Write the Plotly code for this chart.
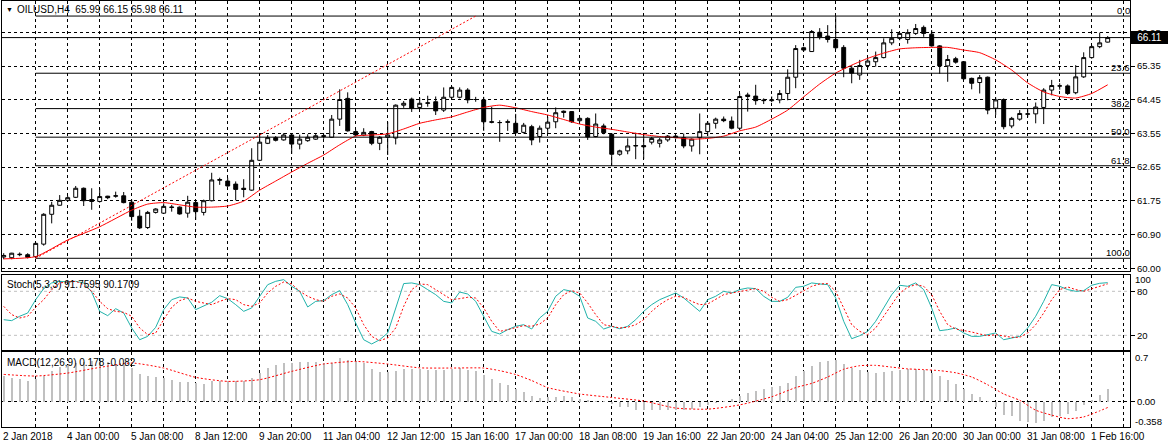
import plotly.graph_objects as go

# ---------------- DATA ----------------
symbol = "OILUSD,H4"
open_ = [60.30, 60.28, 60.36, 60.36, 60.31, 60.64, 61.43, 61.67, 61.80, 61.88,
         62.12, 61.82, 61.77, 61.91, 61.91, 61.92, 61.75, 61.38, 61.08, 61.48,
         61.46, 61.61, 61.62, 61.46, 61.74, 61.48, 61.79, 62.33, 62.31, 62.23,
         62.12, 62.07, 62.86, 63.31, 63.46, 63.40, 63.53, 63.29, 63.38, 63.42,
         63.49, 63.47, 63.95, 64.50, 63.62, 63.53, 63.62, 63.31, 63.47, 63.45,
         64.32, 64.48, 64.26, 64.37, 64.41, 64.19, 64.53, 64.53, 64.72, 64.47,
         64.46, 63.88, 63.86, 63.88, 63.84, 63.60, 63.75, 63.49, 63.71, 63.88,
         64.16, 64.15, 63.91, 63.97, 63.49, 63.77, 63.55, 63.02, 63.11, 63.24,
         63.25, 63.34, 63.31, 63.40, 63.50, 63.46, 63.24, 63.46, 63.62, 63.84,
         63.95, 63.90, 63.71, 64.59, 64.56, 64.44, 64.44, 64.46, 64.63, 65.06,
         65.84, 65.74, 66.25, 66.15, 66.06, 65.85, 65.30, 65.12, 65.37, 65.47,
         65.58, 65.97, 66.09, 66.06, 66.22, 66.38, 66.20, 65.89, 65.36, 65.55,
         65.47, 65.03, 64.92, 65.06, 64.24, 64.47, 63.77, 63.95, 64.08, 64.09,
         64.26, 64.72, 64.83, 64.83, 64.65, 65.07, 65.58, 65.87, 65.99]
high = [60.40, 60.41, 60.42, 60.40, 60.68, 61.46, 61.76, 61.94, 61.92, 62.18,
        62.14, 62.12, 62.12, 61.92, 62.03, 62.02, 61.82, 61.55, 61.52, 61.59,
        61.72, 61.68, 61.64, 61.92, 61.80, 61.82, 62.53, 62.40, 62.40, 62.30,
        62.36, 63.18, 63.53, 63.53, 63.50, 63.58, 63.56, 63.54, 63.55, 63.58,
        63.56, 64.06, 64.74, 64.66, 63.67, 63.71, 63.64, 63.50, 63.88, 64.34,
        64.43, 64.52, 64.52, 64.57, 64.55, 64.79, 64.83, 64.79, 64.77, 64.54,
        64.54, 64.28, 63.92, 63.94, 64.09, 63.85, 63.80, 63.78, 64.01, 64.26,
        64.18, 64.16, 64.00, 64.00, 64.10, 63.83, 63.58, 63.14, 63.44, 63.59,
        63.53, 63.48, 63.45, 63.53, 63.53, 63.57, 63.44, 64.10, 63.90, 63.99,
        64.02, 64.02, 64.63, 64.65, 64.86, 64.50, 64.55, 64.72, 65.27, 65.91,
        65.87, 66.31, 66.36, 66.44, 66.68, 65.91, 65.38, 65.52, 65.56, 65.74,
        66.09, 66.33, 66.23, 66.33, 66.47, 66.43, 66.31, 65.91, 65.65, 65.60,
        65.49, 65.05, 65.12, 65.08, 64.53, 64.50, 64.01, 64.19, 64.21, 64.39,
        64.77, 64.99, 64.90, 64.87, 65.38, 65.72, 65.91, 66.24, 66.15]
low = [60.24, 60.24, 60.32, 60.26, 60.27, 60.60, 61.19, 61.66, 61.76, 61.86,
       61.65, 61.55, 61.74, 61.83, 61.87, 61.72, 61.26, 61.04, 61.04, 61.45,
       61.44, 61.50, 61.42, 61.34, 61.28, 61.40, 61.77, 62.21, 62.16, 61.80,
       61.88, 62.05, 62.84, 63.29, 63.36, 63.38, 63.03, 63.15, 63.35, 63.40,
       63.43, 63.45, 63.77, 63.62, 63.50, 63.50, 63.26, 63.13, 63.00, 63.28,
       64.25, 64.14, 64.22, 64.28, 64.06, 64.14, 64.46, 64.50, 64.37, 64.41,
       63.64, 63.84, 63.35, 63.64, 63.56, 63.57, 63.26, 63.33, 63.57, 63.71,
       63.99, 63.85, 63.87, 63.40, 63.47, 63.55, 62.71, 62.98, 63.02, 62.89,
       62.89, 63.28, 63.20, 63.35, 63.44, 63.18, 63.09, 63.02, 63.50, 63.70,
       63.87, 63.68, 63.66, 64.15, 64.33, 64.35, 64.40, 64.37, 64.45, 64.77,
       65.74, 65.73, 66.06, 65.98, 65.80, 65.06, 64.90, 64.99, 65.30, 65.34,
       65.56, 65.91, 66.04, 65.95, 66.18, 66.13, 65.87, 65.15, 64.94, 65.42,
       64.99, 64.74, 64.63, 64.08, 64.06, 63.68, 63.71, 63.91, 64.00, 63.84,
       63.82, 64.58, 64.73, 64.59, 64.61, 65.04, 65.55, 65.83, 65.98]
close = [60.34, 60.40, 60.37, 60.29, 60.66, 61.43, 61.67, 61.80, 61.87, 62.12,
         61.79, 61.77, 61.90, 61.87, 61.92, 61.74, 61.37, 61.07, 61.48, 61.57,
         61.64, 61.62, 61.44, 61.75, 61.50, 61.79, 62.34, 62.35, 62.18, 62.09,
         62.09, 62.86, 63.34, 63.46, 63.39, 63.53, 63.29, 63.42, 63.47, 63.51,
         63.51, 63.95, 64.47, 63.64, 63.53, 63.60, 63.31, 63.47, 63.53, 64.32,
         64.37, 64.24, 64.37, 64.38, 64.17, 64.53, 64.79, 64.72, 64.46, 64.47,
         63.88, 63.87, 63.86, 63.87, 63.59, 63.79, 63.40, 63.71, 63.87, 64.12,
         64.13, 63.88, 63.97, 63.48, 63.82, 63.59, 63.02, 63.11, 63.24, 63.25,
         63.22, 63.44, 63.40, 63.50, 63.46, 63.24, 63.42, 63.62, 63.84, 63.95,
         63.91, 63.71, 64.55, 64.55, 64.44, 64.45, 64.46, 64.63, 65.06, 65.82,
         65.78, 66.27, 66.13, 66.06, 65.84, 65.30, 65.17, 65.37, 65.49, 65.58,
         65.97, 66.09, 66.22, 66.24, 66.35, 66.22, 65.89, 65.36, 65.53, 65.46,
         65.02, 64.90, 65.05, 64.19, 64.46, 63.75, 63.97, 64.10, 64.09, 64.27,
         64.72, 64.84, 64.83, 64.63, 65.07, 65.58, 65.87, 65.97, 66.11]
bars = list(range(len(close)))

ma_bars = [0, 4, 8, 12, 16, 18, 20, 22, 24, 26, 28, 30, 32, 34, 36, 38, 40, 42, 44, 46,
           48, 50, 52, 54, 56, 58, 60, 62, 64, 66, 68, 70, 72, 74, 76, 78, 80, 82, 84, 86,
           88, 90, 92, 94, 96, 98, 100, 102, 104, 106, 108, 110, 112, 114, 116, 118, 120,
           122, 124, 126, 128, 130, 132, 134, 136, 138]
ma_vals = [60.25, 60.31, 60.75, 61.10, 61.54, 61.70, 61.74, 61.68, 61.62, 61.62,
           61.65, 61.78, 62.07, 62.31, 62.55, 62.78, 63.00, 63.27, 63.50, 63.53,
           63.56, 63.69, 63.84, 63.93, 64.01, 64.14, 64.26, 64.32, 64.25, 64.15,
           64.06, 63.94, 63.82, 63.74, 63.68, 63.61, 63.54, 63.49, 63.46, 63.42,
           63.44, 63.50, 63.64, 63.74, 63.95, 64.19, 64.54, 64.88, 65.17, 65.38,
           65.56, 65.70, 65.81, 65.84, 65.85, 65.85, 65.78, 65.71, 65.52, 65.25,
           64.91, 64.67, 64.55, 64.51, 64.63, 64.86]

stoch_k = [41.3, 40, 46, 50.4, 68.6, 83.6, 91.4, 93.6, 92.7, 93.6,
           91.4, 79, 52.7, 46.8, 56.3, 50.4, 30, 14, 18.6, 30.9,
           55, 68.6, 72.3, 70.9, 55, 60.4, 65, 74, 70, 61.8,
           52.7, 57.3, 73.2, 89, 93.6, 95.9, 86.8, 80, 58.6, 66.3,
           67.3, 75.4, 80.9, 61.8, 36.8, 14, 8.2, 14, 23.2, 57.3,
           90.5, 91.4, 89.1, 82.3, 75.4, 66.3, 64.1, 79, 76.3, 66.3,
           45.9, 25.4, 21.8, 27.7, 32.3, 34.5, 28.6, 43.6, 52.7, 73.2,
           82.3, 80, 73.2, 43.6, 39.1, 28.6, 32.3, 29, 32.3, 41.3,
           52.7, 61.8, 68.6, 73.2, 77.7, 70.9, 61.8, 52.7, 68.6, 73.2,
           80, 77.7, 82.3, 84.5, 83.6, 73.2, 66.3, 66.3, 71.8, 85.4,
           86.8, 91.4, 90, 89.1, 70.9, 39.1, 15.4, 19.5, 25.4, 39.1,
           57.3, 75.4, 88.2, 86.8, 91.4, 82.3, 57.3, 26.3, 27.7, 30,
           23.2, 18.6, 18.6, 20.9, 23.2, 14, 16.4, 18.6, 30, 46,
           66.3, 89.1, 86.8, 82.3, 80, 80.9, 88.2, 90.9, 91.7595]
stoch_d = [59.5, 48.2, 43.6, 46, 58.2, 68.6, 82.3, 91.4, 92.7, 93.6,
           89.1, 80, 66.3, 56.3, 52.7, 51.3, 46, 30, 20.9, 23.2,
           41.3, 58.2, 67.3, 70.9, 66.3, 64.1, 61.8, 66.3, 70, 68.6,
           61.8, 59.5, 64.1, 77.7, 86.8, 92.7, 90, 80, 73.2, 68.6,
           66.3, 73.2, 76.4, 70.9, 57.3, 34.5, 18.6, 12.7, 16.4, 30,
           59.5, 82.3, 90, 89.1, 82.3, 75.4, 68.6, 70, 71.8, 70.9,
           57.3, 39.1, 25.4, 27.7, 30, 33.2, 32.3, 35.4, 43.6, 61.8,
           75.4, 80.9, 77.7, 64.1, 48.2, 34.5, 32.3, 30, 31, 34.5,
           41.3, 52.7, 61.8, 68.6, 73.2, 71.8, 66.3, 61.8, 62.7, 68.6,
           75.4, 77.7, 80, 82.3, 83.6, 80, 71.8, 66.3, 68.6, 74.5,
           80.9, 86.8, 90, 90.5, 80, 57.3, 34.5, 25.4, 20.9, 30,
           46, 61.8, 77.7, 85.4, 89.1, 86.8, 75.4, 52.7, 34.5, 28.6,
           26.8, 24.5, 21.8, 19.5, 20.9, 18.6, 17.3, 17.3, 23.2, 34.5,
           50.4, 68.6, 82.3, 85.9, 82.3, 80, 83.6, 86.8, 90.1709]
stoch_levels = [20, 80]

macd_main = [0.36, 0.335, 0.32, 0.30, 0.32, 0.37, 0.43, 0.49, 0.52, 0.55,
             0.56, 0.57, 0.57, 0.56, 0.53, 0.515, 0.48, 0.39, 0.37, 0.345,
             0.335, 0.31, 0.28, 0.28, 0.26, 0.25, 0.29, 0.29, 0.29, 0.29,
             0.30, 0.335, 0.41, 0.48, 0.515, 0.55, 0.55, 0.56, 0.56, 0.56,
             0.55, 0.55, 0.62, 0.595, 0.57, 0.55, 0.47, 0.42, 0.42, 0.43,
             0.467, 0.467, 0.467, 0.453, 0.453, 0.453, 0.46, 0.477, 0.453, 0.44,
             0.38, 0.32, 0.264, 0.23, 0.18, 0.137, 0.085, 0.052, 0.06, 0.066,
             0.085, 0.066, 0.045, 0.028, 0.014, 0.005, -0.03, -0.08, -0.08, -0.113,
             -0.113, -0.113, -0.113, -0.113, -0.113, -0.113, -0.099, -0.08, -0.05, -0.019,
             0.005, 0.038, 0.076, 0.123, 0.156, 0.184, 0.203, 0.217, 0.264, 0.359,
             0.43, 0.50, 0.557, 0.58, 0.595, 0.534, 0.477, 0.444, 0.42, 0.406,
             0.415, 0.439, 0.45, 0.463, 0.463, 0.453, 0.40, 0.359, 0.312, 0.25,
             0.18, 0.109, 0.066, 0.014, -0.08, -0.184, -0.208, -0.269, -0.29, -0.302,
             -0.269, -0.222, -0.2, -0.175, -0.127, -0.042, 0.03, 0.099, 0.178]
signal_bars = [0, 4, 8, 12, 16, 20, 24, 28, 32, 36, 40, 44, 48, 52, 56, 60, 62, 64, 66, 68,
               72, 76, 80, 84, 88, 92, 96, 99, 101, 103, 105, 107, 109, 111, 113, 115, 117,
               119, 121, 123, 125, 127, 129, 131, 133, 135, 137, 138]
signal_vals = [0.387, 0.364, 0.406, 0.486, 0.548, 0.477, 0.345, 0.288, 0.312, 0.43,
               0.534, 0.571, 0.534, 0.48, 0.477, 0.477, 0.44, 0.385, 0.30, 0.20,
               0.11, 0.06, 0.01, -0.09, -0.105, -0.045, 0.07, 0.2, 0.26, 0.35,
               0.46, 0.51, 0.515, 0.49, 0.465, 0.455, 0.44, 0.41, 0.35, 0.24,
               0.11, 0.02, -0.12, -0.19, -0.24, -0.215, -0.13, -0.082]

date_labels = ["2 Jan 2018", "4 Jan 00:00", "5 Jan 08:00", "8 Jan 12:00", "9 Jan 20:00",
               "11 Jan 04:00", "12 Jan 12:00", "15 Jan 16:00", "17 Jan 00:00", "18 Jan 08:00",
               "19 Jan 16:00", "22 Jan 20:00", "24 Jan 04:00", "25 Jan 12:00", "26 Jan 20:00",
               "30 Jan 00:00", "31 Jan 08:00", "1 Feb 16:00"]
date_label_bars = [0, 8, 16, 24, 32, 40, 48, 56, 64, 72, 80, 88, 96, 104, 112, 120, 128, 136]
grid_bars = list(range(4, 141, 4))

price_ticks = [60.0 + k * 6.25 / 7 for k in range(8)]
price_tick_labels = ["60.00", "60.90", "61.75", "62.65", "63.55", "64.45", "65.35", "66.25"]

fib_low, fib_high = 60.265, 66.68
fib_bar_start, fib_bar_end = 4, 59
fib_levels = [0.0, 23.6, 38.2, 50.0, 61.8, 100.0]

macd_range = [-0.358, 0.7]

# ---------------- LAYOUT HELPERS ----------------
W, H = 1170, 448
ML, MR, MT, MB = 2, 40, 1, 21
PW, PH = W - ML - MR, H - MT - MB
BAR0_PX, BAR_PX = 3.7, 8.0
x_range = [(ML - BAR0_PX) / BAR_PX, (ML + PW - BAR0_PX) / BAR_PX]


def fx(px):
    return (px - ML) / PW


def fy(py):
    return (H - MB - py) / PH


FONT = "Liberation Sans, Arial, sans-serif"
FS = 9.5
BLACK = "#000000"
GRID_DASH = "3px,3px"

main_dom = [fy(271), 1.0]
stoch_dom = [fy(349.7), fy(275.3)]
macd_dom = [0.0, fy(352.3)]
px_per_unit = 37.76
main_range = [60.0 - (271 - 268.3) / px_per_unit, 60.0 + (268.3 - 1) / px_per_unit]

fig = go.Figure()

fig.add_trace(go.Candlestick(
    x=bars, open=open_, high=high, low=low, close=close,
    increasing=dict(line=dict(color=BLACK, width=1), fillcolor="#FFFFFF"),
    decreasing=dict(line=dict(color=BLACK, width=1), fillcolor=BLACK),
    whiskerwidth=0, xaxis="x", yaxis="y", showlegend=False, hoverinfo="skip"))

fig.add_trace(go.Scatter(x=ma_bars, y=ma_vals, mode="lines",
                         line=dict(color="#FF0000", width=1, shape="spline", smoothing=0.6),
                         xaxis="x", yaxis="y", showlegend=False, hoverinfo="skip"))

fig.add_trace(go.Scatter(x=bars, y=stoch_k, mode="lines",
                         line=dict(color="#20B2AA", width=1),
                         xaxis="x2", yaxis="y2", showlegend=False, hoverinfo="skip"))
fig.add_trace(go.Scatter(x=bars, y=stoch_d, mode="lines",
                         line=dict(color="#FF0000", width=1, dash="2px,2px"),
                         xaxis="x2", yaxis="y2", showlegend=False, hoverinfo="skip"))

fig.add_trace(go.Bar(x=bars, y=macd_main, width=0.22,
                     marker=dict(color="#C0C0C0", line=dict(width=0)),
                     xaxis="x3", yaxis="y3", showlegend=False, hoverinfo="skip"))
fig.add_trace(go.Scatter(x=signal_bars, y=signal_vals, mode="lines",
                         line=dict(color="#FF0000", width=1, dash="2px,2px",
                                   shape="spline", smoothing=0.6),
                         xaxis="x3", yaxis="y3", showlegend=False, hoverinfo="skip"))

xcommon = dict(range=x_range, tickmode="array", tickvals=grid_bars, showticklabels=False,
               ticks="", showgrid=True, gridcolor=BLACK, griddash=GRID_DASH, gridwidth=1,
               zeroline=False, showline=True, linecolor=BLACK, linewidth=1, mirror=True,
               fixedrange=True)
ycommon = dict(side="right", showline=True, linecolor=BLACK, linewidth=1, mirror=True,
               zeroline=False, ticks="outside", ticklen=4, tickcolor=BLACK,
               tickfont=dict(family=FONT, size=FS, color=BLACK), fixedrange=True)

shapes = []
annotations = []

# stochastic levels
for lv in stoch_levels:
    shapes.append(dict(type="line", xref="x2 domain", yref="y2", x0=0, x1=1, y0=lv, y1=lv,
                       line=dict(color="#C0C0C0", width=1, dash=GRID_DASH), layer="below"))

# fibonacci
for lv in fib_levels:
    price = fib_high - (fib_high - fib_low) * lv / 100.0
    shapes.append(dict(type="line", xref="x", yref="y", x0=fib_bar_start, x1=x_range[1],
                       y0=price, y1=price, line=dict(color=BLACK, width=1)))
    annotations.append(dict(text=f"{lv:.1f}", xref="paper", x=fx(1129.5), xanchor="right",
                            yref="y", y=price, yanchor="bottom", showarrow=False,
                            font=dict(family=FONT, size=FS, color=BLACK),
                            borderpad=0, borderwidth=0))
shapes.append(dict(type="line", xref="x", yref="y", x0=fib_bar_start, y0=fib_low,
                   x1=fib_bar_end, y1=fib_high,
                   line=dict(color="#FF0000", width=1, dash="2px,2px")))

# bid line
last_price = close[-1]
shapes.append(dict(type="line", xref="x domain", yref="y", x0=0, x1=1,
                   y0=last_price, y1=last_price, line=dict(color=BLACK, width=1)))
annotations.append(dict(text=f"{last_price:.2f}", xref="paper", x=fx(1131), xanchor="left",
                        yref="y", y=last_price, yanchor="middle", showarrow=False,
                        bgcolor=BLACK, font=dict(family=FONT, size=FS + 0.5, color="#FFFFFF"),
                        width=37, height=13, borderpad=0, borderwidth=0, align="center"))

# header texts
annotations.append(dict(text="▼", xref="paper", x=fx(6), xanchor="left", yref="paper",
                        y=fy(10), yanchor="middle", showarrow=False,
                        font=dict(family=FONT, size=7, color=BLACK), borderpad=0, borderwidth=0))
annotations.append(dict(text=f"{symbol}  {open_[-1]:.2f} {high[-1]:.2f} {low[-1]:.2f} {close[-1]:.2f}",
                        xref="paper", x=fx(17), xanchor="left", yref="paper", y=fy(10),
                        yanchor="middle", showarrow=False,
                        font=dict(family=FONT, size=FS + 0.5, color=BLACK),
                        borderpad=0, borderwidth=0))
annotations.append(dict(text=f"Stoch(5,3,3) {stoch_k[-1]:.4f} {stoch_d[-1]:.4f}",
                        xref="paper", x=fx(6.5), xanchor="left", yref="paper", y=fy(284.5),
                        yanchor="middle", showarrow=False,
                        font=dict(family=FONT, size=FS + 0.5, color=BLACK),
                        borderpad=0, borderwidth=0))
annotations.append(dict(text=f"MACD(12,26,9) {macd_main[-1]:.3f} {signal_vals[-1]:.3f}",
                        xref="paper", x=fx(6.5), xanchor="left", yref="paper", y=fy(362),
                        yanchor="middle", showarrow=False,
                        font=dict(family=FONT, size=FS + 0.5, color=BLACK),
                        borderpad=0, borderwidth=0))

# sub-window edge labels
edge_labels = [("100", "y2", 100, "top", 2.5), ("0", "y2", 0, "bottom", 0),
               ("0.7", "y3", macd_range[1], "top", 0), ("-0.358", "y3", macd_range[0], "bottom", 0)]
for txt, yr, yv, anc, ys in edge_labels:
    annotations.append(dict(text=txt, xref="paper", x=fx(1135), xanchor="left", yref=yr,
                            y=yv, yanchor=anc, yshift=ys, showarrow=False,
                            font=dict(family=FONT, size=FS, color=BLACK),
                            borderpad=0, borderwidth=0))

# date labels
for b, lab in zip(date_label_bars, date_labels):
    annotations.append(dict(text=lab, xref="x3", x=b, xanchor="left", xshift=-1,
                            yref="paper", y=fy(436), yanchor="middle", showarrow=False,
                            font=dict(family=FONT, size=FS + 0.5, color=BLACK),
                            borderpad=0, borderwidth=0))

fig.update_layout(
    width=W, height=H, autosize=False,
    margin=dict(l=ML, r=MR, t=MT, b=MB, pad=0),
    paper_bgcolor="#FFFFFF", plot_bgcolor="#FFFFFF",
    showlegend=False, hovermode=False, bargap=0,
    xaxis=dict(domain=[0, 1], anchor="y", rangeslider=dict(visible=False), **xcommon),
    xaxis2=dict(domain=[0, 1], anchor="y2", matches="x", **xcommon),
    xaxis3=dict(domain=[0, 1], anchor="y3", matches="x", **xcommon),
    yaxis=dict(domain=main_dom, anchor="x", range=main_range, tickmode="array",
               tickvals=price_ticks, ticktext=price_tick_labels, showgrid=True,
               gridcolor=BLACK, griddash=GRID_DASH, gridwidth=1, **ycommon),
    yaxis2=dict(domain=stoch_dom, anchor="x2", range=[0.4, 101.8], tickmode="array",
                tickvals=stoch_levels, ticktext=[str(v) for v in stoch_levels],
                showgrid=False, **ycommon),
    yaxis3=dict(domain=macd_dom, anchor="x3", range=macd_range, tickmode="array",
                tickvals=[0], ticktext=["0.00"], showgrid=True, gridcolor=BLACK,
                griddash=GRID_DASH, gridwidth=1, **ycommon),
    shapes=shapes, annotations=annotations,
)

fig.write_html("out.html", config={"displayModeBar": False, "staticPlot": True})
